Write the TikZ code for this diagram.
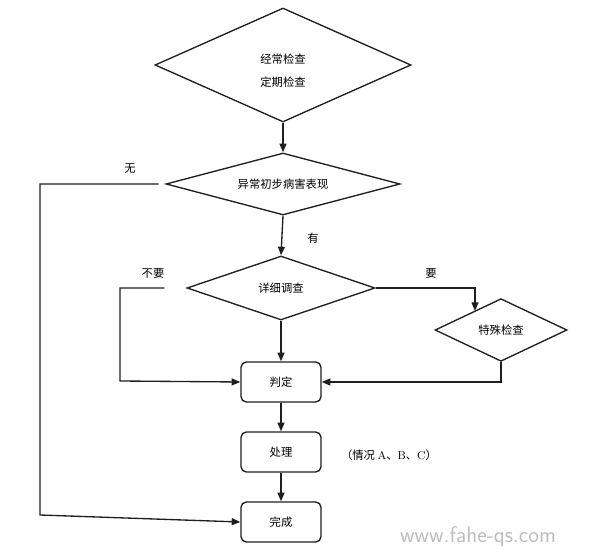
\documentclass[tikz,border=0pt]{standalone}
\usepackage{fontspec}
\newfontfamily\cjk{Noto Sans CJK SC}
\usepackage{xcolor}
\definecolor{ink}{HTML}{1E1E1E}
\definecolor{mark}{HTML}{BDBDBD}
\usetikzlibrary{arrows.meta,positioning,shapes.geometric}

\begin{document}
\begin{tikzpicture}[
  x=0.75pt, y=-0.75pt, font=\cjk\fontsize{8.5}{10}\selectfont,
  arr/.style={-{Triangle[length=6.5pt,width=5.2pt]}, line width=1pt, color=ink},
  decide/.style={diamond, draw=ink, line width=1pt, inner sep=0pt, align=center},
  stepbox/.style={rectangle, draw=ink, line width=1pt, rounded corners=4pt,
    minimum width=60pt, minimum height=30pt, inner sep=0pt}
]
\useasboundingbox (0,0) rectangle (596,555);

% Decisions
\node[decide, minimum width=192pt, minimum height=85.5pt, aspect=2.25] (check) at (283,65)
  {\smash{\raisebox{-7.5pt}{\begin{tabular}{@{}c@{}}经常检查\\[7pt]定期检查\end{tabular}}}};
\node[decide, minimum width=175.5pt, minimum height=46.5pt, aspect=3.8] (sign) at (283,184)
  {异常初步病害表现};
\node[decide, minimum width=141pt, minimum height=48pt, aspect=2.9] (detail) at (281,288)
  {详细调查};
\node[decide, minimum width=99pt, minimum height=47pt, aspect=2.1] (special) at (501,330)
  {特殊检查};

% Steps
\node[stepbox] (judge) at (281,382) {判定};
\node[stepbox] (treat) at (281,452) {处理};
\node[stepbox] (done)  at (281,522) {完成};

% Helper corners
\coordinate (noleft) at (120,381);
\coordinate (nobottom) at (40,515);
\coordinate (needdown) at (475,311);

% Connectors
\draw[arr] (check.south) -- (sign.north);
\draw[arr] (sign.south) -- (detail.north);
\draw[arr, shorten <=5pt] (sign.west) -| (nobottom) -- (done.west);
\draw[arr, shorten <=16.5pt] (detail.west) -| (noleft) -- (judge.west);
\draw[arr] (detail.east) -| (needdown);
\draw[arr] (detail.south) -- (judge.north);
\draw[arr] (special.south) |- (judge.east);
\draw[arr] (judge.south) -- (treat.north);
\draw[arr] (treat.south) -- (done.north);

% Labels
\node (lno)   at (130,169) {无};
\node (lyes)  at (313,238) {有};
\node (lskip) at (153,273) {不要};
\node (lneed) at (431,273) {要};
\node (lcase) at (389,455) {（情况 {\rmfamily A}、{\rmfamily B}、{\rmfamily C}）};

% Watermark
\node[font=\sffamily\fontsize{17}{20}\selectfont, text=mark] (wm) at (478,537) {www.fahe-qs.com};

\end{tikzpicture}
\end{document}
